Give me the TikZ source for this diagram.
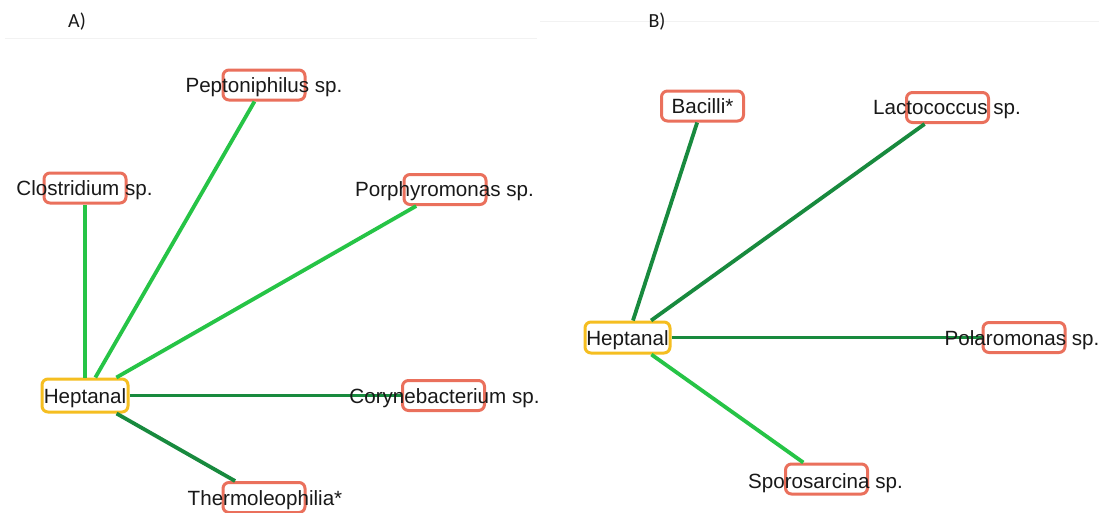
\documentclass[tikz,border=0pt]{standalone}
\usepackage{fontspec}
\setmainfont{Liberation Sans}
\newfontfamily\panelfont{Carlito}
\definecolor{lgreen}{RGB}{38,196,70}
\definecolor{dgreen}{RGB}{24,138,62}
\definecolor{boxred}{RGB}{234,112,92}
\definecolor{boxyel}{RGB}{245,190,32}
\definecolor{faint}{RGB}{242,242,242}
\definecolor{txt}{RGB}{25,25,25}
\begin{document}
\begin{tikzpicture}[x=1pt,y=-1pt,
  rbox/.style={draw=boxred,line width=3pt,rounded corners=6pt,fill=white,minimum width=82pt,minimum height=30pt,inner sep=0pt},
  ybox/.style={draw=boxyel,line width=3pt,rounded corners=6pt,fill=white,minimum width=85pt,minimum height=31pt,inner sep=0pt},
  lbl/.style={font=\fontsize{20.6}{24}\selectfont,text=txt,anchor=base,inner sep=0pt},
  plbl/.style={font=\panelfont\fontsize{20}{24}\selectfont,text=txt,inner sep=0pt},
  ledge/.style={draw=lgreen,line width=3.8pt},
  dedge/.style={draw=dgreen,line width=3.8pt}]
\fill[white] (0,0) rectangle (1099,512);
\useasboundingbox (0,0) rectangle (1099,512);
% faint panel lines
\draw[faint,line width=1pt] (5,38.5) -- (537,38.5);
\draw[faint,line width=1pt] (540,21) -- (1099,21);
\node[plbl] (pa) at (77,22) {A)};
\node[plbl] (pb) at (657,22) {B)};
% ---------- Panel A ----------
\node[ybox,minimum width=86pt,minimum height=33pt] (hA) at (85,395.5) {};
\node[rbox] (pep) at (264,85) {};
\node[rbox] (clo) at (85,188) {};
\node[rbox] (por) at (445,189.5) {};
\node[rbox] (cor) at (443.5,395.5) {};
\node[rbox] (the) at (264,497.5) {};
% ---------- Panel B ----------
\node[ybox] (hB) at (627.5,337.5) {};
\node[rbox] (bac) at (702.5,106) {};
\node[rbox] (lac) at (947.5,107.5) {};
\node[rbox] (pol) at (1024,337.5) {};
\node[rbox] (spo) at (826.5,479) {};
% edges
\draw[ledge] (hA) -- (clo);
\draw[ledge] (hA) -- (pep);
\draw[ledge] (hA) -- (por);
\draw[dedge] (hA) -- (cor);
\draw[dedge] (hA) -- (the);
\draw[dedge] (hB) -- (bac);
\draw[dedge] (hB) -- (lac);
\draw[dedge] (hB) -- (pol);
\draw[ledge] (hB) -- (spo);
% labels
\node[lbl] (tpep) at (264,92) {Peptoniphilus sp.};
\node[lbl] (tclo) at (84.5,195.5) {Clostridium sp.};
\node[lbl] (tpor) at (444.5,196.5) {Porphyromonas sp.};
\node[lbl] (thA) at (85,403) {Heptanal};
\node[lbl] (tcor) at (444.5,403) {Corynebacterium sp.};
\node[lbl] (tthe) at (265,505) {Thermoleophilia*};
\node[lbl] (tbac) at (702.5,113.5) {Bacilli*};
\node[lbl] (tlac) at (947,114.5) {Lactococcus sp.};
\node[lbl] (thB) at (627.5,345) {Heptanal};
\node[lbl] (tpol) at (1022,345) {Polaromonas sp.};
\node[lbl] (tspo) at (825.5,488) {Sporosarcina sp.};
\end{tikzpicture}
\end{document}
